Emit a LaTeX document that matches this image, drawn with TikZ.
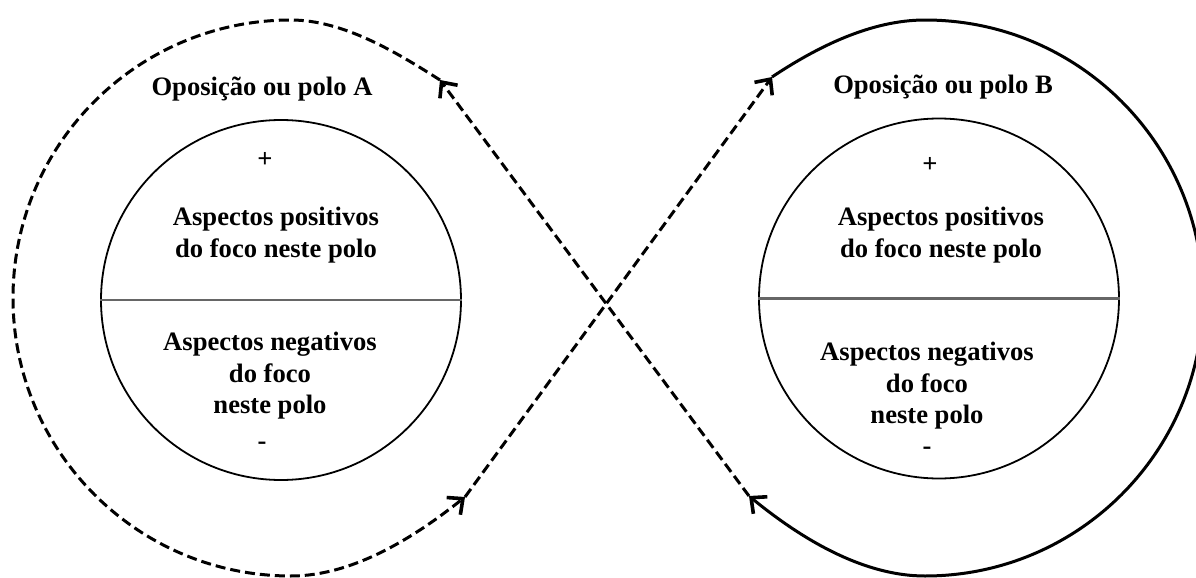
\documentclass[tikz,border=0pt]{standalone}
\usepackage{fontspec}
\setmainfont{Liberation Serif}
\usetikzlibrary{arrows.meta}
\begin{document}
\begin{tikzpicture}[x=0.5pt,y=-0.5pt,
  txt/.style={font=\bfseries\fontsize{13.3}{15.8}\selectfont, inner sep=0pt, align=center},
  pole/.style={circle, draw, line width=0.9pt, minimum size=180pt, inner sep=0pt},
  divider/.style={draw=black!60, line width=1.4pt},
  loopdash/.style={line width=1.5pt, dash pattern=on 5pt off 2.5pt},
  loopsolid/.style={line width=1.5pt},
  arrowend/.style={-{Straight Barb[length=6pt,width=11pt,line width=1.8pt]}},
]
\useasboundingbox (0,0) rectangle (1196,578);

% the two poles, each split into a positive and a negative half
\node[pole] (poleA) at (281,300) {};
\node[pole] (poleB) at (939,298.5) {};
\draw[divider] (poleA.west) -- (poleA.east);
\draw[divider] (poleB.west) -- (poleB.east);

% pole A texts
\node[txt, anchor=base] (titleA) at (262,95) {Oposição ou polo A};
\node[txt] (plusA) at (265,160) {+};
\node[txt] (posA) at (276,235) {Aspectos positivos\\do foco neste polo};
\node[txt] (negA) at (270,376) {Aspectos negativos\\do foco\\neste polo};
\node[txt, anchor=base] (minusA) at (262,449) {-};

% pole B texts
\node[txt, anchor=base] (titleB) at (943,93) {Oposição ou polo B};
\node[txt] (plusB) at (930,165) {+};
\node[txt] (posB) at (941,235) {Aspectos positivos\\do foco neste polo};
\node[txt] (negB) at (927,386) {Aspectos negativos\\do foco\\neste polo};
\node[txt, anchor=base] (minusB) at (927,454) {-};

% ends of the figure-eight loop
\coordinate (aTop) at (440,80);
\coordinate (aBot) at (465,497);
\coordinate (bTop) at (772,77);
\coordinate (bBot) at (749,496);

% left loop (dashed), round pole A
\draw[loopdash, arrowend] (aTop) .. controls (396,52) and (343,20) .. (291,20)
  .. controls (137.5,20) and (13,144.5) .. (13,298)
  .. controls (13,451.5) and (137.5,576) .. (291,576)
  .. controls (354,576) and (416,536) .. (aBot);

% crossing from A to B
\draw[loopdash, arrowend] (aBot) -- (bTop);

% right loop (solid), round pole B
\draw[loopsolid, arrowend] (bTop) .. controls (817,47) and (871,20) .. (925,20)
  .. controls (1078.5,20) and (1203,144.5) .. (1203,298)
  .. controls (1203,451.5) and (1078.5,576) .. (925,576)
  .. controls (861,576) and (798.5,536.5) .. (bBot);

% crossing from B back to A
\draw[loopdash, arrowend] (bBot) -- (aTop);
\end{tikzpicture}
\end{document}
